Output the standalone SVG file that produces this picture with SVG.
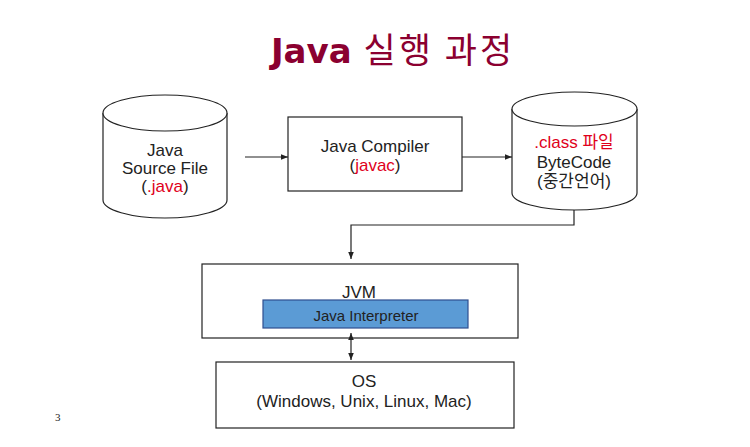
<svg xmlns="http://www.w3.org/2000/svg" width="750" height="447" viewBox="0 0 750 447">
<style>
.t{font-family:"Liberation Sans","Noto Sans CJK KR",sans-serif;font-size:17px;fill:#222;text-anchor:middle}
.r{fill:#e0001b}
.s{fill:#fff;stroke:#222;stroke-width:1.2}
.c{fill:none;stroke:#222;stroke-width:1.2}
</style>
<defs>
<marker id="a" viewBox="0 0 8 8" refX="8" refY="4" markerWidth="7" markerHeight="7" markerUnits="userSpaceOnUse" orient="auto-start-reverse">
<path d="M0,0.8 L8,4 L0,7.2z" fill="#222"/>
</marker>
</defs>
<rect width="750" height="447" fill="#fff"/>
<text x="393" y="63" text-anchor="middle" font-family="DejaVu Sans,'Noto Sans CJK KR',sans-serif" font-weight="bold" font-size="34" fill="#8b0030">Java <tspan font-weight="normal" font-size="35" letter-spacing="3" font-family="'Noto Sans CJK KR',sans-serif">실행 과정</tspan></text>
<g id="source">
<path class="s" d="M103,113 L103,200 A62,18 0 0 0 227,200 L227,113"/>
<ellipse class="s" cx="165" cy="113" rx="62" ry="18"/>
<text class="t" x="165" y="156">Java</text>
<text class="t" x="165" y="174">Source File</text>
<text class="t" x="165" y="192">(<tspan class="r">.java</tspan>)</text>
</g>
<g id="compiler">
<rect class="s" x="288" y="117" width="174" height="74"/>
<text class="t" x="375" y="152">Java Compiler</text>
<text class="t" x="375" y="171">(<tspan class="r">javac</tspan>)</text>
</g>
<g id="bytecode">
<path class="s" d="M512,109 L512,193 A62.5,17 0 0 0 637,193 L637,109"/>
<ellipse class="s" cx="574.5" cy="109" rx="62.5" ry="17"/>
<text class="t" x="574" y="148"><tspan class="r">.class 파일</tspan></text>
<text class="t" x="574" y="168">ByteCode</text>
<text class="t" x="574" y="187">(중간언어)</text>
</g>
<g id="jvm">
<rect class="s" x="202" y="264" width="316" height="74"/>
<text class="t" x="359" y="298">JVM</text>
<rect x="263" y="300" width="205" height="28" fill="#5b9bd5" stroke="#2f4f8f" stroke-width="1.2"/>
<text class="t" x="366" y="321" style="font-size:15px">Java Interpreter</text>
</g>
<g id="os">
<rect class="s" x="216" y="362" width="298" height="66"/>
<text class="t" x="364" y="387">OS</text>
<text class="t" x="364" y="407">(Windows, Unix, Linux, Mac)</text>
</g>
<g id="connectors">
<line class="c" x1="245" y1="157" x2="288" y2="157" marker-end="url(#a)"/>
<line class="c" x1="462" y1="157" x2="512" y2="157" marker-end="url(#a)"/>
<polyline class="c" points="574,210 574,225 351,225 351,259" marker-end="url(#a)"/>
<line class="c" x1="351" y1="333" x2="351" y2="360" marker-start="url(#a)" marker-end="url(#a)"/>
</g>
<text x="55" y="421" font-family="Liberation Serif,serif" font-size="11" fill="#222">3</text>
</svg>
